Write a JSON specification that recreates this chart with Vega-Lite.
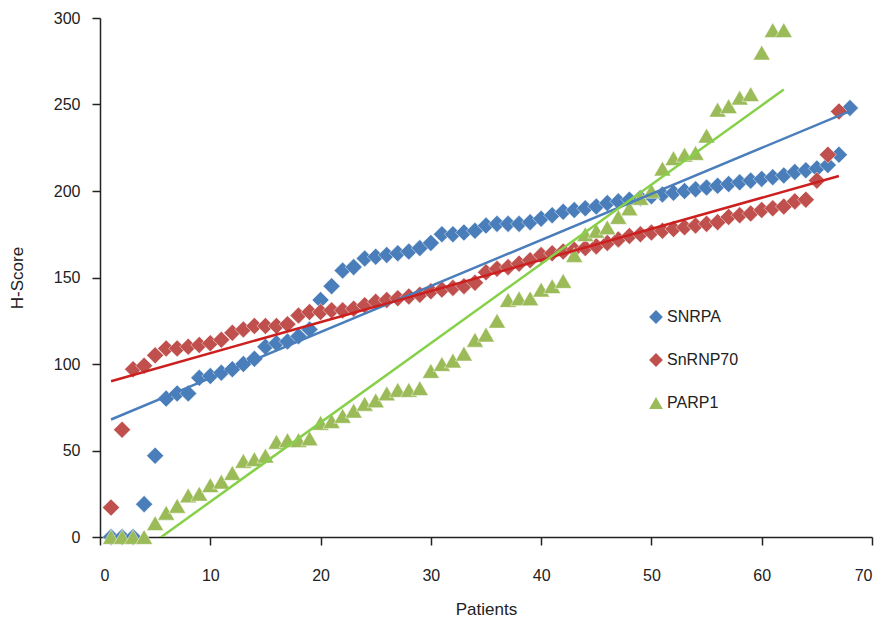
{
  "$schema": "https://vega.github.io/schema/vega-lite/v6.json",
  "autosize": "none",
  "width": 772,
  "height": 519,
  "padding": {"left": 100, "top": 18, "right": 13, "bottom": 84},
  "background": "white",
  "config": {
    "view": {"stroke": null},
    "font": "Liberation Sans",
    "axis": {"grid": false, "domainColor": "#222", "tickColor": "#222", "labelColor": "#222", "titleColor": "#222", "labelFontSize": 16, "titleFontSize": 17, "titleFontWeight": "normal", "tickSize": 8, "domainWidth": 1.5, "tickWidth": 1.5}
  },
  "datasets": {
    "pts": [
      {"p":1,"gene":"SNRPA","h":0},{"p":2,"gene":"SNRPA","h":0},{"p":3,"gene":"SNRPA","h":0},{"p":4,"gene":"SNRPA","h":19},{"p":5,"gene":"SNRPA","h":47},{"p":6,"gene":"SNRPA","h":80},{"p":7,"gene":"SNRPA","h":83},{"p":8,"gene":"SNRPA","h":83},{"p":9,"gene":"SNRPA","h":92},{"p":10,"gene":"SNRPA","h":93},{"p":11,"gene":"SNRPA","h":95},{"p":12,"gene":"SNRPA","h":97},{"p":13,"gene":"SNRPA","h":100},{"p":14,"gene":"SNRPA","h":103},{"p":15,"gene":"SNRPA","h":110},{"p":16,"gene":"SNRPA","h":112},{"p":17,"gene":"SNRPA","h":113},{"p":18,"gene":"SNRPA","h":116},{"p":19,"gene":"SNRPA","h":120},{"p":20,"gene":"SNRPA","h":137},{"p":21,"gene":"SNRPA","h":145},{"p":22,"gene":"SNRPA","h":154},{"p":23,"gene":"SNRPA","h":156},{"p":24,"gene":"SNRPA","h":161},{"p":25,"gene":"SNRPA","h":162},{"p":26,"gene":"SNRPA","h":163},{"p":27,"gene":"SNRPA","h":164},{"p":28,"gene":"SNRPA","h":165},{"p":29,"gene":"SNRPA","h":167},{"p":30,"gene":"SNRPA","h":170},{"p":31,"gene":"SNRPA","h":175},{"p":32,"gene":"SNRPA","h":175},{"p":33,"gene":"SNRPA","h":176},{"p":34,"gene":"SNRPA","h":177},{"p":35,"gene":"SNRPA","h":180},{"p":36,"gene":"SNRPA","h":181},{"p":37,"gene":"SNRPA","h":181},{"p":38,"gene":"SNRPA","h":181},{"p":39,"gene":"SNRPA","h":182},{"p":40,"gene":"SNRPA","h":184},{"p":41,"gene":"SNRPA","h":186},{"p":42,"gene":"SNRPA","h":188},{"p":43,"gene":"SNRPA","h":189},{"p":44,"gene":"SNRPA","h":190},{"p":45,"gene":"SNRPA","h":191},{"p":46,"gene":"SNRPA","h":193},{"p":47,"gene":"SNRPA","h":194},{"p":48,"gene":"SNRPA","h":195},{"p":49,"gene":"SNRPA","h":196},{"p":50,"gene":"SNRPA","h":197},{"p":51,"gene":"SNRPA","h":198},{"p":52,"gene":"SNRPA","h":199},{"p":53,"gene":"SNRPA","h":200},{"p":54,"gene":"SNRPA","h":201},{"p":55,"gene":"SNRPA","h":202},{"p":56,"gene":"SNRPA","h":203},{"p":57,"gene":"SNRPA","h":204},{"p":58,"gene":"SNRPA","h":205},{"p":59,"gene":"SNRPA","h":206},{"p":60,"gene":"SNRPA","h":207},{"p":61,"gene":"SNRPA","h":208},{"p":62,"gene":"SNRPA","h":209},{"p":63,"gene":"SNRPA","h":211},{"p":64,"gene":"SNRPA","h":212},{"p":65,"gene":"SNRPA","h":213},{"p":66,"gene":"SNRPA","h":215},{"p":67,"gene":"SNRPA","h":221},{"p":68,"gene":"SNRPA","h":248},
      {"p":1,"gene":"SnRNP70","h":17},{"p":2,"gene":"SnRNP70","h":62},{"p":3,"gene":"SnRNP70","h":97},{"p":4,"gene":"SnRNP70","h":99},{"p":5,"gene":"SnRNP70","h":105},{"p":6,"gene":"SnRNP70","h":109},{"p":7,"gene":"SnRNP70","h":109},{"p":8,"gene":"SnRNP70","h":110},{"p":9,"gene":"SnRNP70","h":111},{"p":10,"gene":"SnRNP70","h":112},{"p":11,"gene":"SnRNP70","h":114},{"p":12,"gene":"SnRNP70","h":118},{"p":13,"gene":"SnRNP70","h":120},{"p":14,"gene":"SnRNP70","h":122},{"p":15,"gene":"SnRNP70","h":122},{"p":16,"gene":"SnRNP70","h":122},{"p":17,"gene":"SnRNP70","h":123},{"p":18,"gene":"SnRNP70","h":128},{"p":19,"gene":"SnRNP70","h":130},{"p":20,"gene":"SnRNP70","h":130},{"p":21,"gene":"SnRNP70","h":131},{"p":22,"gene":"SnRNP70","h":131},{"p":23,"gene":"SnRNP70","h":132},{"p":24,"gene":"SnRNP70","h":134},{"p":25,"gene":"SnRNP70","h":136},{"p":26,"gene":"SnRNP70","h":137},{"p":27,"gene":"SnRNP70","h":138},{"p":28,"gene":"SnRNP70","h":139},{"p":29,"gene":"SnRNP70","h":140},{"p":30,"gene":"SnRNP70","h":142},{"p":31,"gene":"SnRNP70","h":143},{"p":32,"gene":"SnRNP70","h":144},{"p":33,"gene":"SnRNP70","h":145},{"p":34,"gene":"SnRNP70","h":147},{"p":35,"gene":"SnRNP70","h":153},{"p":36,"gene":"SnRNP70","h":155},{"p":37,"gene":"SnRNP70","h":156},{"p":38,"gene":"SnRNP70","h":158},{"p":39,"gene":"SnRNP70","h":160},{"p":40,"gene":"SnRNP70","h":163},{"p":41,"gene":"SnRNP70","h":164},{"p":42,"gene":"SnRNP70","h":165},{"p":43,"gene":"SnRNP70","h":166},{"p":44,"gene":"SnRNP70","h":167},{"p":45,"gene":"SnRNP70","h":168},{"p":46,"gene":"SnRNP70","h":170},{"p":47,"gene":"SnRNP70","h":172},{"p":48,"gene":"SnRNP70","h":174},{"p":49,"gene":"SnRNP70","h":175},{"p":50,"gene":"SnRNP70","h":176},{"p":51,"gene":"SnRNP70","h":177},{"p":52,"gene":"SnRNP70","h":178},{"p":53,"gene":"SnRNP70","h":179},{"p":54,"gene":"SnRNP70","h":180},{"p":55,"gene":"SnRNP70","h":181},{"p":56,"gene":"SnRNP70","h":182},{"p":57,"gene":"SnRNP70","h":185},{"p":58,"gene":"SnRNP70","h":186},{"p":59,"gene":"SnRNP70","h":187},{"p":60,"gene":"SnRNP70","h":189},{"p":61,"gene":"SnRNP70","h":190},{"p":62,"gene":"SnRNP70","h":191},{"p":63,"gene":"SnRNP70","h":194},{"p":64,"gene":"SnRNP70","h":195},{"p":65,"gene":"SnRNP70","h":206},{"p":66,"gene":"SnRNP70","h":221},{"p":67,"gene":"SnRNP70","h":246},
      {"p":1,"gene":"PARP1","h":0},{"p":2,"gene":"PARP1","h":0},{"p":3,"gene":"PARP1","h":0},{"p":4,"gene":"PARP1","h":0},{"p":5,"gene":"PARP1","h":8},{"p":6,"gene":"PARP1","h":14},{"p":7,"gene":"PARP1","h":18},{"p":8,"gene":"PARP1","h":24},{"p":9,"gene":"PARP1","h":25},{"p":10,"gene":"PARP1","h":30},{"p":11,"gene":"PARP1","h":32},{"p":12,"gene":"PARP1","h":37},{"p":13,"gene":"PARP1","h":44},{"p":14,"gene":"PARP1","h":45},{"p":15,"gene":"PARP1","h":47},{"p":16,"gene":"PARP1","h":55},{"p":17,"gene":"PARP1","h":56},{"p":18,"gene":"PARP1","h":56},{"p":19,"gene":"PARP1","h":57},{"p":20,"gene":"PARP1","h":66},{"p":21,"gene":"PARP1","h":67},{"p":22,"gene":"PARP1","h":70},{"p":23,"gene":"PARP1","h":73},{"p":24,"gene":"PARP1","h":77},{"p":25,"gene":"PARP1","h":79},{"p":26,"gene":"PARP1","h":83},{"p":27,"gene":"PARP1","h":85},{"p":28,"gene":"PARP1","h":85},{"p":29,"gene":"PARP1","h":86},{"p":30,"gene":"PARP1","h":96},{"p":31,"gene":"PARP1","h":100},{"p":32,"gene":"PARP1","h":102},{"p":33,"gene":"PARP1","h":106},{"p":34,"gene":"PARP1","h":114},{"p":35,"gene":"PARP1","h":117},{"p":36,"gene":"PARP1","h":125},{"p":37,"gene":"PARP1","h":137},{"p":38,"gene":"PARP1","h":138},{"p":39,"gene":"PARP1","h":138},{"p":40,"gene":"PARP1","h":143},{"p":41,"gene":"PARP1","h":145},{"p":42,"gene":"PARP1","h":148},{"p":43,"gene":"PARP1","h":163},{"p":44,"gene":"PARP1","h":175},{"p":45,"gene":"PARP1","h":177},{"p":46,"gene":"PARP1","h":179},{"p":47,"gene":"PARP1","h":185},{"p":48,"gene":"PARP1","h":190},{"p":49,"gene":"PARP1","h":196},{"p":50,"gene":"PARP1","h":200},{"p":51,"gene":"PARP1","h":213},{"p":52,"gene":"PARP1","h":219},{"p":53,"gene":"PARP1","h":221},{"p":54,"gene":"PARP1","h":222},{"p":55,"gene":"PARP1","h":232},{"p":56,"gene":"PARP1","h":247},{"p":57,"gene":"PARP1","h":249},{"p":58,"gene":"PARP1","h":254},{"p":59,"gene":"PARP1","h":256},{"p":60,"gene":"PARP1","h":280},{"p":61,"gene":"PARP1","h":293},{"p":62,"gene":"PARP1","h":293}
    ]
  },
  "data": {"name": "pts"},
  "layer": [
    {
      "mark": {"type": "point", "filled": true, "opacity": 1, "size": 290, "stroke": "white", "strokeWidth": 0.6, "strokeOpacity": 0.8, "clip": false},
      "encoding": {
        "x": {"field": "p", "type": "quantitative", "scale": {"domain": [0, 70], "nice": false, "zero": false}, "axis": {"title": "Patients", "values": [0,10,20,30,40,50,60,70], "labelPadding": 22, "titlePadding": 18}},
        "y": {"field": "h", "type": "quantitative", "scale": {"domain": [0, 300], "nice": false}, "axis": {"title": "H-Score", "values": [0,50,100,150,200,250,300], "labelPadding": 12, "titlePadding": 27}},
        "color": {"field": "gene", "type": "nominal", "scale": {"domain": ["SNRPA", "SnRNP70", "PARP1"], "range": ["#4a7ebb", "#c0504d", "#9bbb59"]},
          "legend": {"title": null, "orient": "none", "legendX": 548, "legendY": 291, "labelFontSize": 16, "labelColor": "#222", "symbolSize": 190, "rowPadding": 27, "labelOffset": 3, "symbolStrokeWidth": 0}},
        "shape": {"field": "gene", "type": "nominal", "scale": {"domain": ["SNRPA", "SnRNP70", "PARP1"], "range": ["diamond", "diamond", "triangle-up"]}}
      }
    },
    {
      "transform": [{"regression": "h", "on": "p", "groupby": ["gene"]}],
      "mark": {"type": "line", "strokeWidth": 2.5, "clip": true},
      "encoding": {
        "x": {"field": "p", "type": "quantitative"},
        "y": {"field": "h", "type": "quantitative"},
        "detail": {"field": "gene"},
        "stroke": {"field": "gene", "type": "nominal", "scale": {"domain": ["SNRPA", "SnRNP70", "PARP1"], "range": ["#4a7ebb", "#cc1f1f", "#86d04a"]}, "legend": null}
      }
    }
  ]
}
